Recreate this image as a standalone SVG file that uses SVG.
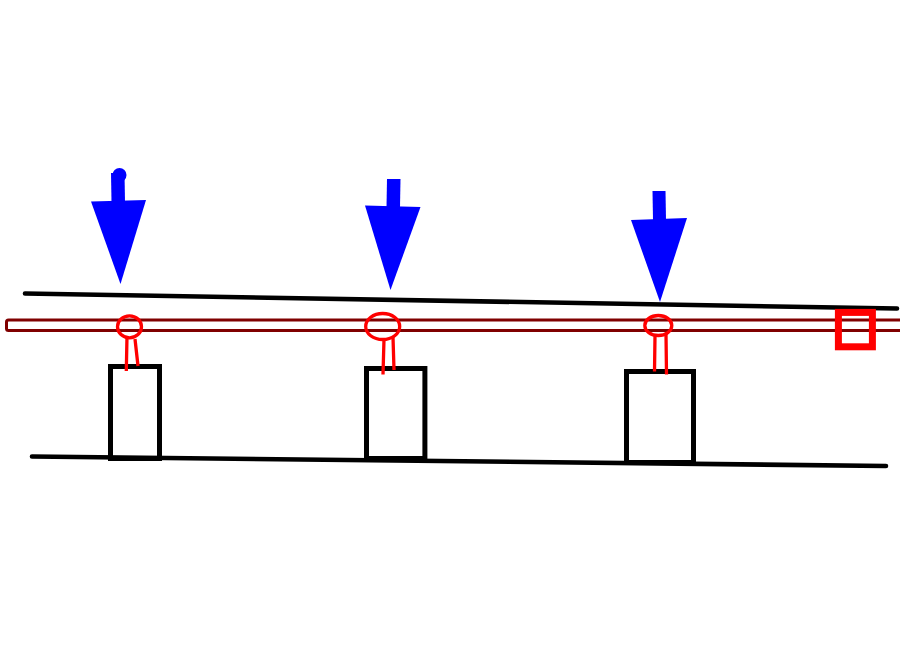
<svg xmlns="http://www.w3.org/2000/svg" width="900" height="660" viewBox="0 0 900 660">
<style>
.blue{fill:#0000ff;stroke:none}
.beam{fill:none;stroke:#000;stroke-width:4.6;stroke-linecap:round}
.box{fill:none;stroke:#000;stroke-width:5}
.red{fill:none;stroke:#f00;stroke-width:3.3}
.bar{fill:none;stroke:#800000;stroke-width:3}
</style>
<rect width="900" height="660" fill="#fff"/>
<g id="connectors">
<line class="beam" x1="25" y1="293.5" x2="897" y2="308.5"/>
<line class="beam" x1="32" y1="456.5" x2="886" y2="466"/>
</g>
<g id="bar"><rect class="bar" x="6.5" y="320" width="900" height="10.5" rx="2"/></g>
<g id="support1">
<rect class="box" x="110.5" y="366.5" width="49" height="92"/>
<ellipse class="red" cx="129.5" cy="326.8" rx="12" ry="11"/>
<path class="red" d="M127 336L126.3 371M135 339L138 366"/>
</g>
<g id="support2">
<rect class="box" x="366.5" y="368.5" width="58.4" height="90"/>
<ellipse class="red" cx="382.7" cy="326.5" rx="17" ry="13"/>
<path class="red" d="M384 339L383 374.5M393 337L394 370"/>
</g>
<g id="support3">
<rect class="box" x="626.5" y="371.5" width="67" height="91"/>
<ellipse class="red" cx="658.3" cy="325.5" rx="13.5" ry="10"/>
<path class="red" d="M655 336L654.5 371.5M666 334L666.5 374.5"/>
</g>
<g id="end-square"><rect x="838.4" y="312.4" width="34" height="34.4" fill="none" stroke="#f00" stroke-width="7"/></g>
<g id="arrow1">
<circle class="blue" cx="119.5" cy="175" r="7"/>
<polygon class="blue" points="111,173 124.5,173 125,202 111.5,202"/>
<polygon class="blue" points="91,201.5 146,200 120.5,284"/>
</g>
<g id="arrow2">
<polygon class="blue" points="387,179 400.5,179 400,207 386.5,207"/>
<polygon class="blue" points="365,205.5 420.5,207 390.5,290"/>
</g>
<g id="arrow3">
<polygon class="blue" points="652.5,191 665.5,191 666,220 653,220"/>
<polygon class="blue" points="631,220 687,218 660,302"/>
</g>
</svg>
